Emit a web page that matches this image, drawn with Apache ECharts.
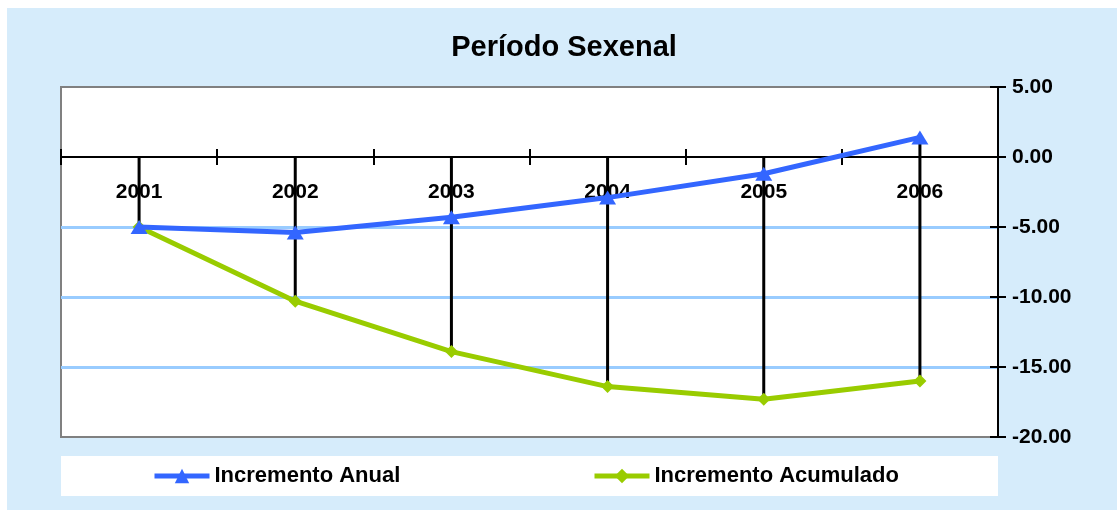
<!DOCTYPE html>
<html>
<head>
<meta charset="utf-8">
<script src="https://cdn.jsdelivr.net/npm/echarts@6/dist/echarts.min.js"></script>
<style>
html, body { margin: 0; padding: 0; background: #fff; }
#chart { width: 1117px; height: 512px; }
</style>
</head>
<body>
<div id="chart"></div>
<script>
var years = ['2001', '2002', '2003', '2004', '2005', '2006'];
var anual = [-5.0, -5.4, -4.3, -2.9, -1.2, 1.4];
var acumulado = [-5.0, -10.3, -13.9, -16.4, -17.3, -16.0];
var yMin = -20, yMax = 5, yStep = 5;

var font = 'Liberation Sans, Arial, sans-serif';
var gridTop = 87, gridBottom = 75;
var plotH = 512 - gridTop - gridBottom;
// echarts 6 keeps category labels at the grid edge even when the line sits on zero,
// so pull them back up to just under the zero line
var zeroFromBottom = (0 - yMin) / (yMax - yMin) * plotH;

// drop lines: from the top (axis or point above it) down to the lowest point
var drops = [];
for (var i = 0; i < years.length; i++) {
	drops.push([i, Math.max(0, anual[i], acumulado[i]), Math.min(anual[i], acumulado[i])]);
}

var myChart = echarts.init(document.getElementById('chart'));
var option = {
	animation: false,
	backgroundColor: '#fff',
	title: {
		text: 'Período Sexenal',
		left: 564,
		textAlign: 'center',
		top: 33,
		padding: 0,
		textStyle: { fontFamily: font, fontSize: 29, fontWeight: 'bold', color: '#000' }
	},
	graphic: [
		{ type: 'rect', z: -10, shape: { x: 7, y: 8, width: 1110, height: 502 }, style: { fill: '#d6ecfb' } },
		{ type: 'rect', z: -9, shape: { x: 61, y: 456, width: 937, height: 40 }, style: { fill: '#fff' } }
	],
	legend: [
		{
			data: ['Incremento Anual'], left: 152, top: 465, padding: 0,
			itemWidth: 55, itemHeight: 18, itemGap: 0,
			lineStyle: { width: 5 },
			textStyle: { fontFamily: font, fontSize: 22, fontWeight: 'bold', color: '#000' }
		},
		{
			data: ['Incremento Acumulado'], left: 592, top: 465, padding: 0,
			itemWidth: 55, itemHeight: 18, itemGap: 0,
			lineStyle: { width: 5 },
			textStyle: { fontFamily: font, fontSize: 22, fontWeight: 'bold', color: '#000' }
		}
	],
	grid: {
		left: 61, right: 119, top: gridTop, bottom: gridBottom,
		show: true, backgroundColor: '#fff', borderColor: '#808080', borderWidth: 2
	},
	xAxis: [{
		type: 'category',
		data: years,
		position: 'bottom',
		boundaryGap: true,
		axisLine: { onZero: true, onZeroAxisIndex: 0, lineStyle: { color: '#000', width: 2 } },
		axisTick: { show: true, length: 8, lineStyle: { color: '#000', width: 2 } },
		axisLabel: { margin: 25 - zeroFromBottom, fontFamily: font, fontSize: 21, fontWeight: 'bold', color: '#000' },
		splitLine: { show: false }
	}, {
		type: 'category',
		data: years,
		position: 'top',
		boundaryGap: true,
		axisLine: { onZero: true, onZeroAxisIndex: 1, lineStyle: { color: '#000', width: 2 } },
		axisTick: { show: true, length: 8, lineStyle: { color: '#000', width: 2 } },
		axisLabel: { show: false },
		splitLine: { show: false }
	}],
	yAxis: [{
		type: 'value',
		position: 'right',
		min: yMin, max: yMax, interval: yStep,
		axisLine: { show: true, onZero: false, lineStyle: { color: '#000', width: 2 } },
		axisTick: { show: true, length: 8, lineStyle: { color: '#000', width: 2 } },
		axisLabel: {
			margin: 14, fontFamily: font, fontSize: 21, fontWeight: 'bold', color: '#000',
			formatter: function(v) { return v.toFixed(2); }
		},
		splitLine: {
			show: true, showMinLine: false, showMaxLine: false,
			lineStyle: { color: ['#99ccff', '#99ccff', '#99ccff', 'rgba(0,0,0,0)'], width: 3 }
		}
	}, {
		type: 'value',
		position: 'right',
		min: yMin, max: yMax, interval: yStep,
		axisLine: { show: false, onZero: false },
		axisTick: { show: true, inside: true, length: 8, lineStyle: { color: '#000', width: 2 } },
		axisLabel: { show: false },
		splitLine: { show: false }
	}],
	series: [{
		name: 'drops',
		type: 'custom',
		z: 1,
		silent: true,
		data: drops,
		renderItem: function(params, api) {
			var p1 = api.coord([api.value(0), api.value(1)]);
			var p2 = api.coord([api.value(0), api.value(2)]);
			return {
				type: 'line',
				shape: { x1: p1[0], y1: p1[1], x2: p2[0], y2: p2[1] },
				style: { stroke: '#000', lineWidth: 3 }
			};
		}
	}, {
		name: 'Incremento Anual',
		type: 'line',
		z: 3,
		data: anual,
		symbol: 'triangle',
		symbolSize: [17, 14],
		lineStyle: { color: '#3366ff', width: 5 },
		itemStyle: { color: '#3366ff' }
	}, {
		name: 'Incremento Acumulado',
		type: 'line',
		z: 2,
		data: acumulado,
		symbol: 'diamond',
		symbolSize: 13,
		lineStyle: { color: '#99cc00', width: 5 },
		itemStyle: { color: '#99cc00' }
	}]
};
myChart.setOption(option);
</script>
</body>
</html>
